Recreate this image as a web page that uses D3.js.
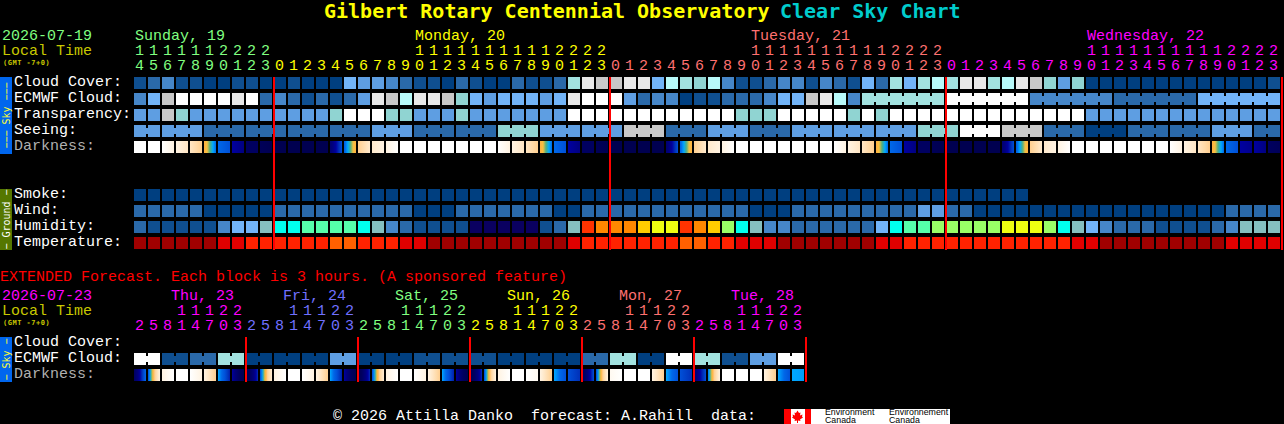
<!DOCTYPE html>
<html>
<head>
<meta charset="utf-8">
<script src="https://cdn.jsdelivr.net/npm/d3@7"></script>
<style>
html,body{margin:0;padding:0;background:#000;overflow:hidden}
svg{display:block}
text{font-family:"Liberation Mono","DejaVu Sans Mono",monospace}
text.title,text.small,text.side{font-family:"DejaVu Sans Mono","Liberation Mono",monospace}
</style>
</head>
<body>
<div id="chart"></div>
<script>
// ---------- data: hourly forecast (82 columns) ----------
const hours = [14,15,16,17,18,19,20,21,22,23,
  0,1,2,3,4,5,6,7,8,9,10,11,12,13,14,15,16,17,18,19,20,21,22,23,
  0,1,2,3,4,5,6,7,8,9,10,11,12,13,14,15,16,17,18,19,20,21,22,23,
  0,1,2,3,4,5,6,7,8,9,10,11,12,13,14,15,16,17,18,19,20,21,22,23];
const dayLabels = ["Sunday, 19","Monday, 20","Tuesday, 21","Wednesday, 22"];
const dayLabelColumns = [0,20,44,68];
const dayStartColumns = [0,10,34,58];
const midnightColumns = [10,34,58,82];

const skyRows = ["Cloud Cover:","ECMWF Cloud:","Transparency:","Seeing:","Darkness:"];
const groundRows = ["Smoke:","Wind:","Humidity:","Temperature:"];

// sky condition classes: 0 = clear/best ... 11 = overcast/worst
const cloudCover = [1,2,3,1,1,0,0,1,1,0,0,1,0,0,0,5,4,4,3,2,1,1,0,2,1,0,0,2,1,1,2,7,10,9,9,10,10,5,8,7,6,8,3,1,1,2,3,3,1,3,2,1,5,2,7,5,7,8,7,10,10,7,8,10,9,6,4,6,0,0,0,0,0,0,0,0,0,0,0,0,0,1];
const ecmwfCloud = [3,5,9,11,11,11,11,10,11,2,3,2,1,2,1,2,4,10,9,8,10,10,9,6,5,4,5,5,5,4,5,10,11,11,11,4,2,3,3,0,1,1,2,2,2,3,5,5,9,10,8,3,7,7,7,7,7,7,11,11,11,11,11,11,3,3,3,3,3,3,2,2,2,2,2,2,5,5,5,5,5,5];
const ecmwfBlocks = [1,1,1,1,1,1,1,1,1,1,1,1,1,1,1,1,1,1,1,1,1,1,1,1,1,1,1,1,1,1,1,1,1,1,1,1,1,1,1,1,1,1,1,1,1,1,1,1,1,1,1,1,6,6,6,6,6];
const transparency = [4,4,9,6,4,4,4,4,4,4,4,4,4,4,6,11,11,11,6,6,4,4,4,6,4,4,4,4,4,4,4,11,11,11,11,11,11,11,11,11,11,11,11,6,6,6,11,11,11,11,11,6,11,6,11,11,11,11,11,11,11,11,11,11,11,11,11,11,4,4,4,4,4,4,4,4,4,4,4,4,4,4];
const seeing = [4,4,4,4,4,2,2,2,2,2,2,2,2,2,2,2,2,4,4,4,2,2,2,2,2,2,6,6,6,4,4,4,4,4,4,9,9,9,2,2,2,4,4,4,2,2,2,4,4,4,4,4,4,4,4,4,6,6,6,11,11,11,9,9,9,2,2,2,0,0,0,2,2,2,2,2,2,4,4,4,2,2];
const seeingBlocks = [2,3,3,3,3,3,3,3,3,3,3,3,3,3,3,3,3,3,3,3,3,3,3,3,3,3,3,2];
// darkness: value at the left and right edge of each cell, 0 = daylight, 10 = moonless night
const darknessFrom = [0,0,0,1,2,4,6,7.5,9,9.5,10,10,10,10,8.5,6.2,3.5,1.7,1,0,0,0,0,0,0,0,0,1,2,4,6,7.5,9,9.5,10,10,10,10,8.5,6.2,3.5,1.7,1,0,0,0,0,0,0,0,0,1,2,4,6,7.5,9,9.5,10,10,10,10,8.5,6.2,3.5,1.7,1,0,0,0,0,0,0,0,0,1,2,4,6,7.5,7.5,9];
const darknessTo   = [0,0,1,2,3.5,6,6.5,8,9,10,10,10,10,10,6.5,4,1.7,1,0,0,0,0,0,0,0,0,1,2,3.5,6,6.5,8,9,10,10,10,10,10,6.5,4,1.7,1,0,0,0,0,0,0,0,0,1,2,3.5,6,6.5,8,9,10,10,10,10,10,6.5,4,1.7,1,0,0,0,0,0,0,0,0,1,2,3.5,6,6.5,7.8,8,9.5];

const smoke = [0,0,0,0,0,0,0,0,0,0,0,0,0,0,0,0,0,0,0,0,0,0,0,0,0,0,0,0,0,0,0,0,0,0,0,0,0,0,0,0,0,0,0,0,0,0,0,0,0,0,0,0,0,0,0,0,0,0,0,0,0,0,0,0];
const wind = [2,2,2,2,2,0,0,0,0,0,2,2,2,2,2,2,2,2,2,2,0,0,0,2,2,2,2,2,2,2,0,0,2,2,2,2,2,2,2,2,2,2,2,2,0,0,0,2,2,2,2,2,2,2,2,2,4,4,2,2,0,0,0,0,0,0,0,0,0,0,0,0,0,0,0,0,0,0,2,2,2,2];
const humidity = [2,1,1,1,1,1,3,4,4,5,6,6,7,7,7,7,6,5,3,2,1,1,1,1,0,0,0,0,0,1,2,5,12,11,11,11,10,9,9,12,11,10,8,6,5,3,3,2,2,2,2,2,2,4,6,7,7,8,8,8,8,8,9,9,9,8,6,5,4,3,2,2,2,1,1,1,1,2,3,5,5,5];
const temperature = [0,0,0,0,0,0,1,1,2,2,2,2,2,2,3,3,2,2,2,1,1,0,0,0,0,0,0,0,0,0,0,1,2,2,2,2,2,2,2,3,3,2,2,1,1,1,0,0,0,0,0,0,0,1,1,2,2,2,2,2,2,2,2,2,2,2,2,1,1,0,0,0,0,0,0,0,0,0,1,1,1,1];

// ---------- data: extended forecast (48 columns of 3 hours) ----------
const extHours = [2,5,8,11,14,17,20,23,2,5,8,11,14,17,20,23,2,5,8,11,14,17,20,23,2,5,8,11,14,17,20,23,2,5,8,11,14,17,20,23,2,5,8,11,14,17,20,23];
const extDayLabels = ["Thu, 23","Fri, 24","Sat, 25","Sun, 26","Mon, 27","Tue, 28"];
const extRows = ["Cloud Cover:","ECMWF Cloud:","Darkness:"];
const extEcmwf = [11,11,1,1,2,2,7,7,0,0,0,0,0,0,4,4,0,0,0,0,1,1,1,1,1,1,0,0,0,0,0,0,2,2,7,7,0,0,11,11,7,7,1,1,4,4,11,11];
const extEcmwfBlocks = [2,2,2,2,2,2,2,2,2,2,2,2,2,2,2,2,2,2,2,2,2,2,2,2];
const extDarknessFrom = [9,6.5,1,0,0,1,5.5,7.5,10,6.5,1,0,0,1,5.5,7.5,10,6.5,1,0,0,1,5.5,7.5,10,6.5,1,0,0,1,5.5,6.5,9.5,6.5,.5,0,0,1,5.5,6.5,8.5,6,0,0,0,1,5.5,5.5];
const extDarknessTo   = [6,1,0,0,1,3.5,7.2,10,7,1.5,0,0,1,3.5,7.2,10,7,1.5,0,0,1,3.5,7.2,10,7,1,0,0,.5,3.5,6.5,7,6.5,1,0,0,0,3.5,6.5,7,6.5,1,0,0,0,3.5,6.5,5.6];

// ---------- scales ----------
const W = 1284, H = 424;
const CELL_STEP = 14, CELL = 12, ROW_STEP = 16;
const X0 = 134;

const x = d3.scaleBand().domain(d3.range(hours.length))
  .range([X0, X0 + hours.length * CELL_STEP - (CELL_STEP - CELL)])
  .paddingInner((CELL_STEP - CELL) / CELL_STEP).paddingOuter(0);
const xExt = d3.scaleBand().domain(d3.range(extHours.length))
  .range([X0, X0 + extHours.length * CELL_STEP - (CELL_STEP - CELL)])
  .paddingInner((CELL_STEP - CELL) / CELL_STEP).paddingOuter(0);
const rowScale = (names, top) => d3.scaleBand().domain(names)
  .range([top, top + names.length * ROW_STEP - (ROW_STEP - CELL)])
  .paddingInner((ROW_STEP - CELL) / ROW_STEP).paddingOuter(0);
const ySky = rowScale(skyRows, 77);
const yGround = rowScale(groundRows, 189);
const yExt = rowScale(extRows, 337);

const skyColor = d3.scaleOrdinal(d3.range(12),
  ["#003f80","#0f4f90","#2a69a9","#4686c8","#5e9ee2","#72b4f8","#90d4d2","#a2e2e0","#b8fafa","#c8c8c8","#e8e8e8","#ffffff"]);
const humidityColor = d3.scaleOrdinal(d3.range(13),
  ["#0a0060","#0f4f90","#2a69a9","#4686c8","#72b4f8","#85bfbf","#00ffee","#55ffaa","#99ff66","#eeff11","#ffcc00","#ff8800","#ff3300"]);
const temperatureColor = d3.scaleOrdinal(d3.range(4), ["#a00000","#e00000","#ff2200","#ff6000"]);
const darknessColor = d3.scaleLinear()
  .domain([0,1,2,3.5,4,4.5,5,5.5,6,6.5,7,7.5,8,9,10])
  .range(["#ffffff","#fff3e2","#ffe6c4","#ffcf90","#ffb040","#f8c040","#50b080","#00a8ff","#0068e8","#0050d8","#0030b8","#0000a0","#000080","#000060","#000050"]);

// ---------- drawing ----------
const svg = d3.select("#chart").append("svg").attr("width", W).attr("height", H)
  .style("background", "#000");
const defs = svg.append("defs");

function text(s, px, py, size, fill, opts = {}) {
  return svg.append("text").attr("x", px).attr("y", py).attr("font-size", size)
    .attr("class", opts.cls || null)
    .attr("letter-spacing", opts.spacing || null)
    .attr("fill", fill).attr("font-weight", opts.weight || "normal")
    .attr("text-anchor", opts.anchor || "start").text(s);
}

function drawRow(xs, y, name, values, color, blocks) {
  const g = svg.append("g").attr("shape-rendering", "crispEdges");
  g.selectAll("rect.cell").data(values).join("rect").attr("class", "cell")
    .attr("x", (d, i) => xs(i)).attr("y", y(name))
    .attr("width", xs.bandwidth()).attr("height", y.bandwidth())
    .attr("fill", d => color(d));
  if (blocks) {
    const joins = [];
    let start = 0;
    blocks.forEach(n => {
      for (let i = start; i < start + n - 1; i++) joins.push(i);
      start += n;
    });
    g.selectAll("rect.join").data(joins).join("rect").attr("class", "join")
      .attr("x", i => xs(i) + xs.bandwidth()).attr("y", y(name) + 3)
      .attr("width", xs.step() - xs.bandwidth()).attr("height", y.bandwidth() - 6)
      .attr("fill", i => color(values[i]));
  }
}

function drawDarkness(xs, y, name, from, to, idPrefix) {
  const fracs = d3.range(0, 1.001, 1 / 12);
  from.forEach((v, i) => {
    const grad = defs.append("linearGradient").attr("id", idPrefix + i);
    grad.selectAll("stop").data(fracs).join("stop")
      .attr("offset", f => f)
      .attr("stop-color", f => darknessColor(v + (to[i] - v) * f));
  });
  svg.append("g").attr("shape-rendering", "crispEdges")
    .selectAll("rect").data(from).join("rect")
    .attr("x", (d, i) => xs(i)).attr("y", y(name))
    .attr("width", xs.bandwidth()).attr("height", y.bandwidth())
    .attr("fill", (d, i) => `url(#${idPrefix}${i})`);
}

function drawHourAxis(xs, baseline, fmt, colorOf) {
  const g = svg.append("g").attr("transform", `translate(-0.5,${baseline})`)
    .call(d3.axisTop(xs).tickSize(0).tickPadding(0).offset(0).tickFormat(fmt));
  g.select(".domain").remove();
  g.attr("font-family", null).attr("font-size", 15);
  g.selectAll("text").attr("fill", i => colorOf(i));
}

function dayColorLookup(starts, colors) {
  return i => colors[d3.bisectRight(starts, i) - 1];
}

// Title
text("Gilbert Rotary Centennial Observatory", 324, 18, 20, "#ffff00", {weight: "bold", cls: "title"});
text("Clear Sky Chart", 780, 18, 20, "#00cccc", {weight: "bold", cls: "title"});

const GREEN = "#80ff80", YEL = "#ffff00", SALMON = "#ff7070", MAG = "#ff00ff", BLUEV = "#7070ff", OLIVE = "#c8c800";

// Main header
text("2026-07-19", 2, 40, 15, GREEN);
text("Local Time", 2, 55, 15, OLIVE);
text("(GMT -7+0)", 3, 65, 7, OLIVE, {weight: "bold", cls: "small", spacing: 0.5});
const mainDayColors = [GREEN, YEL, SALMON, MAG];
dayLabels.forEach((s, i) => text(s, x(dayLabelColumns[i]) + 1, 40, 15, mainDayColors[i]));
const mainColorOf = dayColorLookup(dayStartColumns, mainDayColors);
drawHourAxis(x, 55, i => hours[i] >= 10 ? Math.floor(hours[i] / 10) : "", mainColorOf);
drawHourAxis(x, 70, i => hours[i] % 10, mainColorOf);

// Side bars
function sideBar(y0, y1, fill, label, color) {
  svg.append("rect").attr("x", 0).attr("y", y0).attr("width", 12).attr("height", y1 - y0)
    .attr("fill", fill).attr("shape-rendering", "crispEdges");
  svg.append("text").attr("class", "side").attr("transform", `translate(9.5,${(y0 + y1) / 2}) rotate(-90)`)
    .attr("text-anchor", "middle").attr("font-size", 10).attr("fill", color).text(label);
}
sideBar(77, 154, "#0066ee", "\u2212\u2212\u2212 Sky \u2212\u2212\u2212", "#ffff33");
sideBar(189, 250, "#557700", "\u2212 Ground \u2212", "#ffffff");
sideBar(337, 382, "#0066ee", "\u2212 Sky \u2212", "#ffff33");

skyRows.forEach(n => text(n, 14, ySky(n) + 8.5, 15, n === "Darkness:" ? "#b0b0b0" : "#ffffff"));
groundRows.forEach(n => text(n, 14, yGround(n) + 8.5, 15, "#ffffff"));

drawRow(x, ySky, "Cloud Cover:", cloudCover, skyColor);
drawRow(x, ySky, "ECMWF Cloud:", ecmwfCloud, skyColor, ecmwfBlocks);
drawRow(x, ySky, "Transparency:", transparency, skyColor);
drawRow(x, ySky, "Seeing:", seeing, skyColor, seeingBlocks);
drawDarkness(x, ySky, "Darkness:", darknessFrom, darknessTo, "dk");
drawRow(x, yGround, "Smoke:", smoke, skyColor);
drawRow(x, yGround, "Wind:", wind, skyColor);
drawRow(x, yGround, "Humidity:", humidity, humidityColor);
drawRow(x, yGround, "Temperature:", temperature, temperatureColor);

// Midnight lines
const lineX = (xs, c) => X0 + c * xs.step() - 1;
svg.append("g").attr("shape-rendering", "crispEdges").selectAll("rect").data(midnightColumns).join("rect")
  .attr("x", c => lineX(x, c)).attr("y", 77).attr("width", 2).attr("height", 173).attr("fill", "#ff0000");

// Extended
text("EXTENDED Forecast. Each block is 3 hours. (A sponsored feature)", 0, 281, 15, "#ff0000");
text("2026-07-23", 2, 300, 15, MAG);
text("Local Time", 2, 315, 15, OLIVE);
text("(GMT -7+0)", 3, 325, 7, OLIVE, {weight: "bold", cls: "small", spacing: 0.5});
const extDayColors = [MAG, BLUEV, GREEN, YEL, SALMON, MAG];
extDayLabels.forEach((s, i) => text(s, xExt(8 * i + 2) + 9, 300, 15, extDayColors[i]));
const extColorOf = i => extDayColors[Math.floor(i / 8)];
drawHourAxis(xExt, 315, i => extHours[i] >= 10 ? Math.floor(extHours[i] / 10) : "", extColorOf);
drawHourAxis(xExt, 330, i => extHours[i] % 10, extColorOf);

extRows.forEach(n => text(n, 14, yExt(n) + 8.5, 15, n === "Darkness:" ? "#b0b0b0" : "#ffffff"));
drawRow(xExt, yExt, "ECMWF Cloud:", extEcmwf, skyColor, extEcmwfBlocks);
drawDarkness(xExt, yExt, "Darkness:", extDarknessFrom, extDarknessTo, "xd");
svg.append("g").attr("shape-rendering", "crispEdges").selectAll("rect").data(d3.range(1, 7)).join("rect")
  .attr("x", k => lineX(xExt, k * 8)).attr("y", 337).attr("width", 2).attr("height", 45).attr("fill", "#ff0000");

// Footer
text("\u00a9 2026 Attilla Danko  forecast: A.Rahill  data:", 333, 420, 15, "#ffffff").style("white-space", "pre");
const logo = svg.append("g").attr("shape-rendering", "crispEdges");
logo.append("rect").attr("x", 784).attr("y", 409).attr("width", 166).attr("height", 15).attr("fill", "#fff");
logo.append("rect").attr("x", 784).attr("y", 409).attr("width", 6.5).attr("height", 15).attr("fill", "#ff0000");
logo.append("rect").attr("x", 804.5).attr("y", 409).attr("width", 6.5).attr("height", 15).attr("fill", "#ff0000");
svg.append("path").attr("transform", "translate(797.5,416.5)")
  .attr("d", "M0,-6L1.5,-3.5L3,-4L2.5,-1L5,-2L4.5,0L5.5,1L2.5,3L3,4.5L.5,4V6.5H-.5V4L-3,4.5L-2.5,3L-5.5,1L-4.5,0L-5,-2L-2.5,-1L-3,-4L-1.5,-3.5Z")
  .attr("fill", "#ff0000");
[["Environment", 825, 415], ["Canada", 825, 423], ["Environnement", 889, 415], ["Canada", 889, 423]].forEach(([s, px, py]) =>
  svg.append("text").attr("x", px).attr("y", py).attr("font-size", 8.8).attr("fill", "#000")
    .style("font-family", "'Liberation Sans',sans-serif").text(s));
</script>
</body>
</html>
